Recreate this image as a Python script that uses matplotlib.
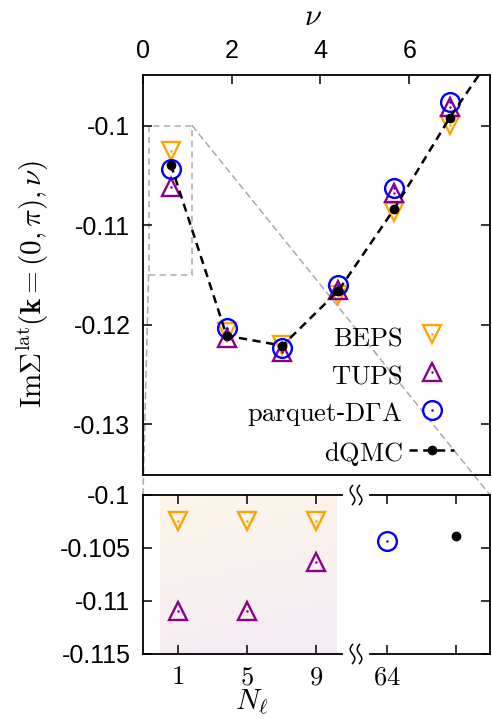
import numpy as np
import matplotlib
matplotlib.use('Agg')
import matplotlib.pyplot as plt
from matplotlib.patches import ConnectionPatch, Rectangle
from matplotlib.lines import Line2D

plt.rcParams['font.family'] = ['Liberation Sans', 'DejaVu Sans']
plt.rcParams['mathtext.fontset'] = 'cm'
plt.rcParams['axes.unicode_minus'] = False

# ---------------- data ----------------
nu = [0.628, 1.885, 3.142, 4.398, 5.655, 6.912]
nu_dqmc = [0.628, 1.885, 3.142, 4.398, 5.655, 6.912, 8.168]
beps = [-0.1025, -0.1207, -0.1220, -0.1170, -0.1087, -0.0999]
tups = [-0.1062, -0.1213, -0.1227, -0.1165, -0.1068, -0.0981]
parquet = [-0.1043, -0.1203, -0.1223, -0.1160, -0.1063, -0.0976]
dqmc = [-0.1039, -0.1211, -0.1221, -0.1166, -0.1084, -0.0992, -0.0910]

nl_categories = ['1', '5', '9', '64', '']
beps_nl = [-0.1025, -0.1025, -0.1025]
tups_nl = [-0.1109, -0.1109, -0.1063]
parquet_nu0 = [-0.1043]
dqmc_nu0 = [-0.1039]

top_yticks = [-0.10, -0.11, -0.12, -0.13]
top_yticklabels = ['-0.1', '-0.11', '-0.12', '-0.13']
top_xticks = [0, 2, 4, 6]
bot_yticks = [-0.100, -0.105, -0.110, -0.115]
bot_yticklabels = ['-0.1', '-0.105', '-0.11', '-0.115']

ORANGE = '#FFA500'
PURPLE = '#8B008B'
BLUE = '#0000FF'
GRAY = '#aaaaaa'

W, H = 492, 719
fig = plt.figure(figsize=(W / 100, H / 100), dpi=100)

def fr(x0, y0, x1, y1):
    return [x0 / W, 1 - y1 / H, (x1 - x0) / W, (y1 - y0) / H]

ax = fig.add_axes(fr(143, 75, 490, 475))
axL = fig.add_axes(fr(143, 495, 342, 654))
axR = fig.add_axes(fr(370, 495, 490, 654))
for a in (ax, axL, axR):
    a.patch.set_visible(False)

MS = 13.5
MEW = 1.7

def dotted_marker(a, x, y, marker, color, z=3):
    h1, = a.plot(x, y, ls='none', marker=marker, ms=MS, mfc='none', mec=color, mew=MEW, zorder=z)
    h2, = a.plot(x, y, ls='none', marker='o', ms=1.8, mfc=color, mec=color, mew=0, zorder=z)
    return (h1, h2)

# ---------------- top panel ----------------
hb = dotted_marker(ax, nu, beps, 'v', ORANGE, 3)
ht = dotted_marker(ax, nu, tups, '^', PURPLE, 3.1)
hp = dotted_marker(ax, nu, parquet, 'o', BLUE, 3.2)
hd, = ax.plot(nu_dqmc, dqmc, color='k', lw=1.8, dashes=(3.3, 2.2), marker='o', ms=6,
              mfc='k', mec='k', zorder=4)

ax.set_xlim(0, 7.82)
ax.set_ylim(-0.1351, -0.0949)
ax.set_xticks(top_xticks)
ax.set_xticklabels([str(t) for t in top_xticks])
ax.set_yticks(top_yticks)
ax.set_yticklabels(top_yticklabels)
ax.tick_params(axis='x', direction='in', top=True, bottom=False, labeltop=True,
               labelbottom=False, length=6.5, width=1.1, labelsize=18, pad=9)
ax.tick_params(axis='y', direction='in', left=True, right=True, length=6.5, width=1.1,
               labelsize=18, pad=9)
for s in ax.spines.values():
    s.set_linewidth(1.3)

ax.xaxis.set_label_position('top')
ax.set_xlabel(r'$\nu$', fontsize=22)
ax.xaxis.set_label_coords(0.49, 1.125)
ax.set_ylabel(r'$\mathrm{Im}\Sigma^{\mathrm{lat}}(\mathbf{k}=(0,\pi),\nu)$', fontsize=21)
ax.yaxis.set_label_coords(-0.265, 0.476)

# zoom rectangle
rect_x0, rect_x1 = 0.125, 1.11
ax.add_patch(Rectangle((rect_x0, bot_yticks[-1]), rect_x1 - rect_x0,
                       bot_yticks[0] - bot_yticks[-1], fill=False, ec=GRAY,
                       lw=1.1, ls=(0, (4, 3)), zorder=1))

leg = ax.legend([hb, ht, hp, hd],
                [r'$\mathrm{BEPS}$', r'$\mathrm{TUPS}$',
                 r'$\mathrm{parquet}$-$\mathrm{D\Gamma A}$', r'$\mathrm{dQMC}$'],
                loc='lower right', bbox_to_anchor=((454 - 143) / 347, (475 - 468) / 400),
                borderaxespad=0, borderpad=0, handlelength=1.7, handletextpad=0.25,
                labelspacing=0.43, handleheight=1.1, frameon=False, markerfirst=False,
                numpoints=1, prop={'family': 'DejaVu Serif', 'size': 19})

# ---------------- bottom panel ----------------
pos = list(range(len(nl_categories)))

# shaded gradient behind the BEPS/TUPS block
c1 = np.array([253, 246, 234]) / 255.0
c2 = np.array([244, 235, 245]) / 255.0
yy, xx = np.mgrid[0:1:100j, 0:1:100j]
t = (0.8 * yy + 0.2 * xx)[..., None]
grad = c1 * (1 - t) + c2 * t
axL.imshow(grad, extent=[-0.25, 2.3, bot_yticks[-1], bot_yticks[0]], aspect='auto',
           origin='upper', zorder=0, interpolation='bilinear')

dotted_marker(axL, pos[:3], beps_nl, 'v', ORANGE)
dotted_marker(axL, pos[:3], tups_nl, '^', PURPLE)
dotted_marker(axR, pos[3:4], parquet_nu0, 'o', BLUE)
axR.plot(pos[4:5], dqmc_nu0, ls='none', marker='o', ms=6, mfc='k', mec='k')

for a, (lo, hi) in ((axL, (-0.5, 2.37)), (axR, (2.76, 4.5))):
    a.set_xlim(lo, hi)
    a.set_ylim(bot_yticks[-1], bot_yticks[0])
    a.set_yticks(bot_yticks)
    for s in a.spines.values():
        s.set_linewidth(1.3)
    a.tick_params(axis='both', direction='in', top=True, bottom=True, length=6.5,
                  width=1.1, labelsize=19, pad=8)

axL.set_xticks(pos[:3])
axL.set_xticklabels(['$%s$' % c for c in nl_categories[:3]])
axR.set_xticks(pos[3:])
axR.set_xticklabels(['$%s$' % c if c else '' for c in nl_categories[3:]])
axL.set_yticklabels(bot_yticklabels)
axL.tick_params(axis='y', left=True, right=False, labelsize=18, pad=9)
axR.tick_params(axis='y', left=False, right=True, labelleft=False)
axL.spines['right'].set_visible(False)
axR.spines['left'].set_visible(False)

axL.set_xlabel(r'$N_\ell$', fontsize=21)
axL.xaxis.set_label_coords(0.546, -0.21)

# axis-break symbols
tt = np.linspace(-1, 1, 40)
for ypx in (495, 654):
    for dx in (-3.5, 3.5):
        xs = 356 + dx + 2.3 * np.sin(np.pi * tt)
        ys = ypx + 9.5 * tt
        fig.add_artist(Line2D(xs / W, 1 - ys / H, color='k', lw=1.1,
                              transform=fig.transFigure))

# connector lines between zoom box and lower panel
for xyA, axB, xyB in (((rect_x0, bot_yticks[-1]), axL, (0, 1)),
                      ((rect_x1, bot_yticks[0]), axR, (1, 1))):
    con = ConnectionPatch(xyA=xyA, coordsA=ax.transData, xyB=xyB, coordsB=axB.transAxes,
                          color=GRAY, lw=1.1, ls=(0, (4, 3)), zorder=-1)
    fig.add_artist(con)

fig.savefig('out.png', dpi=100)
